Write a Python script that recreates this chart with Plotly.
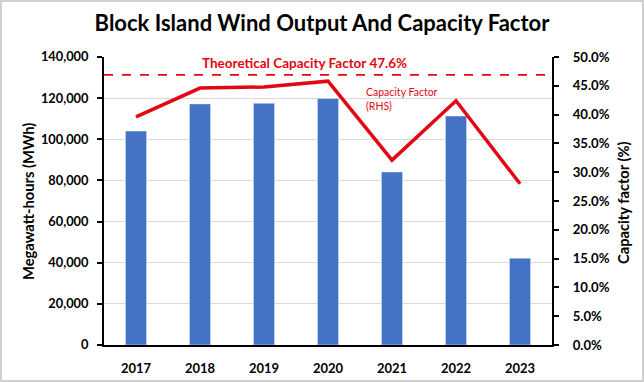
import plotly.graph_objects as go

years = ["2017", "2018", "2019", "2020", "2021", "2022", "2023"]
output_mwh = [104000, 117200, 117500, 119800, 84100, 111300, 42200]
capacity_factor = [39.6, 44.6, 44.8, 45.8, 32.1, 42.4, 28.0]
theoretical_cf = 46.9
theoretical_label = "Theoretical Capacity Factor 47.6%"

left_ticks = [0, 20000, 40000, 60000, 80000, 100000, 120000, 140000]
right_ticks = [0, 5, 10, 15, 20, 25, 30, 35, 40, 45, 50]

FONT = "Lato"
RED = "#E30613"
BLUE = "#4472C4"

L, R, T, B = 104, 92, 57, 37
PW, PH = 644 - L - R, 382 - T - B

fig = go.Figure()
fig.add_trace(go.Bar(x=years, y=output_mwh, marker_color=BLUE, name="Output",
                     yaxis="y"))
fig.add_trace(go.Scatter(x=years, y=capacity_factor, mode="lines",
                         line=dict(color=RED, width=3.5), name="Capacity Factor",
                         yaxis="y2"))

fig.add_shape(type="line", xref="paper", x0=0, x1=1, yref="y2",
              y0=theoretical_cf, y1=theoretical_cf,
              line=dict(color=RED, width=1.8, dash="dash"))

fig.update_layout(
    width=644, height=382,
    margin=dict(l=L, r=R, t=T, b=B, autoexpand=False),
    paper_bgcolor="white", plot_bgcolor="white",
    showlegend=False,
    bargap=0.67,
    font=dict(family=FONT, color="black"),
    title=dict(text="<b>Block Island Wind Output And Capacity Factor</b>",
               x=0.5, xanchor="center", y=0.94, yanchor="middle",
               font=dict(size=22, family=FONT, color="black")),
    xaxis=dict(showline=True, linecolor="black", linewidth=2, automargin=False,
               ticks="", tickfont=dict(size=13, family=FONT),
               ticklabelstandoff=10,
               tickprefix="<b>", ticksuffix="</b>"),
    yaxis=dict(range=[0, 140000], tickvals=left_ticks, automargin=False,
               ticktext=[f"<b>{v:,}</b>" for v in left_ticks],
               showline=True, linecolor="black", linewidth=2,
               ticks="outside", ticklen=5, tickcolor="black", tickwidth=1.5,
               ticklabelstandoff=6,
               showgrid=True, gridcolor="#D9D9D9", gridwidth=1,
               zeroline=False,
               tickfont=dict(size=12.8, family=FONT)),
    yaxis2=dict(range=[0, 50], tickvals=right_ticks, automargin=False,
                ticktext=[f"<b>{v:.1f}%</b>" for v in right_ticks],
                overlaying="y", side="right",
                showline=True, linecolor="black", linewidth=2,
                ticks="outside", ticklen=5, tickcolor="black", tickwidth=1.5,
                ticklabelstandoff=11,
                showgrid=False, zeroline=False,
                tickfont=dict(size=13.2, family=FONT)),
)

# axis titles
fig.add_annotation(text="<b>Megawatt-hours (MWh)</b>", xref="paper", yref="paper",
                   x=(28 - L) / PW, y=(345 - 202) / PH, xanchor="center",
                   yanchor="middle", textangle=-90, showarrow=False,
                   font=dict(size=14.7, family=FONT, color="black"))
fig.add_annotation(text="<b>Capacity factor (%)</b>", xref="paper", yref="paper",
                   x=(623 - L) / PW, y=(345 - 203) / PH, xanchor="center",
                   yanchor="middle", textangle=-90, showarrow=False,
                   font=dict(size=14.7, family=FONT, color="black"))

fig.add_annotation(text=f"<b>{theoretical_label}</b>", xref="paper", yref="paper",
                   x=(200 - L) / PW, y=(345 - 63) / PH, xanchor="left",
                   yanchor="middle",
                   showarrow=False, font=dict(size=13.5, color=RED, family=FONT))
fig.add_annotation(text="Capacity Factor<br>(RHS)", xref="paper", yref="paper",
                   x=(364 - L) / PW, y=(345 - 99) / PH, xanchor="left",
                   yanchor="middle", align="left",
                   showarrow=False, font=dict(size=10.5, color=RED, family=FONT))

fig.add_shape(type="rect", xref="paper", yref="paper",
              x0=-(L - 1) / PW, x1=1 + (R - 1) / PW,
              y0=-(B - 1) / PH, y1=1 + (T - 1) / PH,
              line=dict(color="#D0D0D0", width=2), layer="below")

fig.write_html("out.html", config={"displayModeBar": False},
               post_script="document.body.style.margin='0';document.body.style.overflow='hidden';")
